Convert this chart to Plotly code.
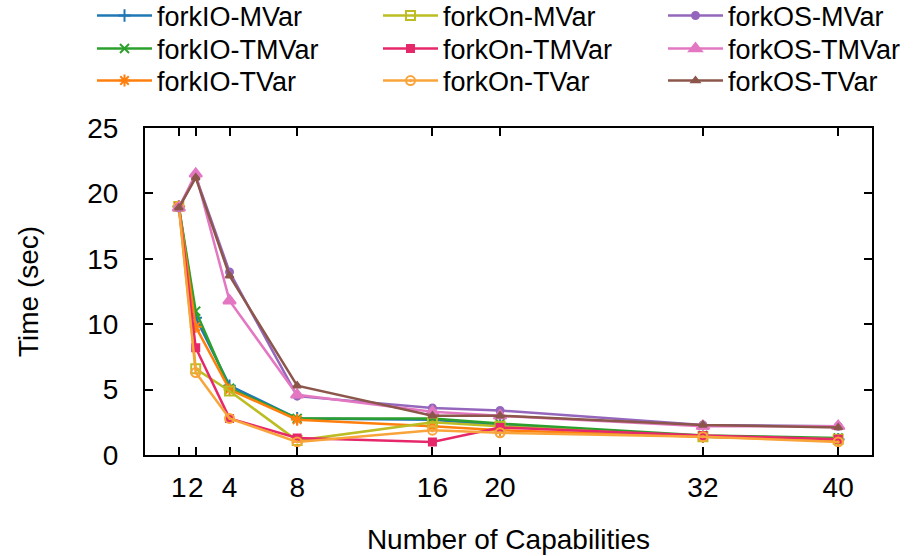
import plotly.graph_objects as go

capabilities = [1, 2, 4, 8, 16, 20, 32, 40]
tick_vals = [1, 2, 4, 8, 16, 20, 32, 40]
tick_text = ["1", "2", "4", "8", "16", "20", "32", "40"]

forkIO_MVar = [19.0, 10.5, 5.3, 2.8, 2.7, 2.3, 1.4, 1.2]
forkIO_TMVar = [19.0, 11.0, 5.1, 2.8, 2.8, 2.4, 1.5, 1.3]
forkIO_TVar = [19.0, 9.8, 5.0, 2.7, 2.2, 1.9, 1.4, 1.1]
forkOn_MVar = [19.0, 6.6, 4.9, 1.1, 2.5, 2.2, 1.4, 1.2]
forkOn_TMVar = [19.0, 8.2, 2.8, 1.3, 1.0, 2.1, 1.5, 1.2]
forkOn_TVar = [19.0, 6.3, 2.8, 1.0, 1.9, 1.7, 1.4, 1.0]
forkOS_MVar = [18.9, 21.3, 14.0, 4.5, 3.6, 3.4, 2.3, 2.2]
forkOS_TMVar = [18.9, 21.5, 11.8, 4.6, 3.3, 3.0, 2.2, 2.2]
forkOS_TVar = [18.9, 21.2, 13.7, 5.3, 3.0, 3.0, 2.3, 2.1]

series = [
    ("forkIO-MVar", forkIO_MVar, "#1f77b4", "cross-thin-open", 9),
    ("forkIO-TMVar", forkIO_TMVar, "#2ca02c", "x-thin-open", 9),
    ("forkIO-TVar", forkIO_TVar, "#ff7f0e", "asterisk-open", 10),
    ("forkOn-MVar", forkOn_MVar, "#bcbd22", "square-open", 9),
    ("forkOn-TMVar", forkOn_TMVar, "#e6286a", "square", 7),
    ("forkOn-TVar", forkOn_TVar, "#f9a43a", "circle-open-dot", 9),
    ("forkOS-MVar", forkOS_MVar, "#9467bd", "circle", 7),
    ("forkOS-TMVar", forkOS_TMVar, "#e377c2", "triangle-up", 11),
    ("forkOS-TVar", forkOS_TVar, "#8c564b", "triangle-up", 7),
]

# legend layout: 3 columns x 3 rows (paper coords)
col_x = [-0.0729, 0.3205, 0.7125]
row_y = [1.3425, 1.2416, 1.1437]

font = dict(family="Liberation Sans, Arial, sans-serif", size=28, color="black")
leg_font = dict(family="Liberation Sans, Arial, sans-serif", size=27, color="black")

fig = go.Figure()
legends = {}
for i, (name, ys, color, sym, size) in enumerate(series):
    key = "legend" if i == 0 else f"legend{i + 1}"
    fig.add_trace(go.Scatter(
        x=capabilities, y=ys, name=name, mode="lines+markers",
        line=dict(color=color, width=2.5),
        marker=dict(symbol=sym, size=size, color=color,
                    line=dict(color=color, width=2)),
        legend=key,
    ))
    legends[key] = dict(font=leg_font, bgcolor="rgba(0,0,0,0)",
                        xanchor="left", yanchor="middle",
                        x=col_x[i // 3], y=row_y[i % 3], itemwidth=55)

fig.update_layout(
    width=923, height=556,
    margin=dict(l=145, r=51, t=128, b=101, autoexpand=False),
    paper_bgcolor="white", plot_bgcolor="white",
    font=font,
    showlegend=True,
    **legends,
    xaxis=dict(
        range=[-1, 42], tickmode="array", tickvals=tick_vals, ticktext=tick_text,
        tickangle=0, automargin=False,
        ticks="inside", ticklen=8, tickwidth=2, tickcolor="black",
        showline=True, linecolor="black", linewidth=2, mirror="ticks",
        showgrid=False, zeroline=False,
        title=dict(text="Number of Capabilities", font=font, standoff=28),
        ticklabelstandoff=6,
    ),
    yaxis=dict(
        range=[0, 25], tickvals=[0, 5, 10, 15, 20, 25], automargin=False,
        ticks="inside", ticklen=8, tickwidth=2, tickcolor="black",
        showline=True, linecolor="black", linewidth=2, mirror="ticks",
        showgrid=False, zeroline=False,
        title=dict(text="Time (sec)", font=font, standoff=40),
        ticklabelstandoff=19,
    ),
)

fig.write_html("out.html")
